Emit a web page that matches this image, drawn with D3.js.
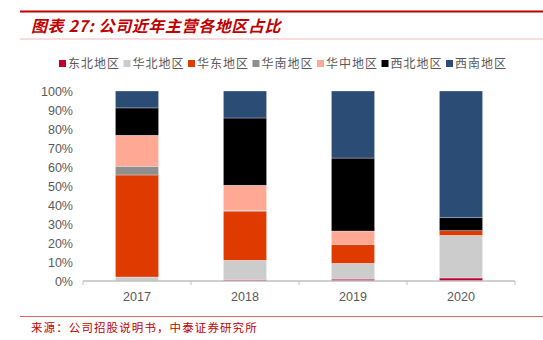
<!DOCTYPE html>
<html>
<head>
<meta charset="utf-8">
<script src="https://cdn.jsdelivr.net/npm/d3@7"></script>
<style>
  body { margin: 0; background: #fff; }
  svg { display: block; }
</style>
</head>
<body>
<svg id="chart"></svg>
<script>
// data (percent of revenue)
const years = ['2017', '2018', '2019', '2020'];
const regions = ['东北地区', '华北地区', '华东地区', '华南地区', '华中地区', '西北地区', '西南地区'];
const colors = ['#C0002F', '#CCCCCC', '#DF3A00', '#8F8F8F', '#FFA893', '#000000', '#2B4C74'];
const dongbei = [0.0, 0.8, 1.0, 1.6];
const huabei = [2.1, 10.1, 8.3, 22.4];
const huadong = [53.7, 25.9, 10.0, 2.5];
const huanan = [4.6, 0.4, 0.0, 0.0];
const huazhong = [16.3, 13.2, 7.0, 0.0];
const xibei = [14.4, 35.4, 38.4, 6.8];
const xinan = [8.9, 14.2, 35.3, 66.7];
const yTicks = [0, 10, 20, 30, 40, 50, 60, 70, 80, 90, 100];

const width = 543, height = 340;
const font = 'Arial, "Liberation Sans", sans-serif';
const cjk = '"Noto Sans CJK SC", sans-serif';

const svg = d3.select('#chart').attr('width', width).attr('height', height);

// header lines + title
svg.append('line').attr('x1', 20).attr('x2', 543).attr('y1', 11.5).attr('y2', 11.5)
  .attr('stroke', '#C00000').attr('stroke-width', 2);
svg.append('line').attr('x1', 20).attr('x2', 543).attr('y1', 39).attr('y2', 39)
  .attr('stroke', '#F4B8B8').attr('stroke-width', 1);
svg.append('text').attr('x', 31).attr('y', 32)
  .attr('fill', '#C00000').attr('font-family', cjk).attr('font-size', 16)
  .attr('font-weight', 'bold').attr('font-style', 'italic').attr('letter-spacing', 0.6)
  .text('图表 27:  公司近年主营各地区占比');

// stack
const table = years.map((y, i) => ({
  year: y,
  '东北地区': dongbei[i], '华北地区': huabei[i], '华东地区': huadong[i], '华南地区': huanan[i],
  '华中地区': huazhong[i], '西北地区': xibei[i], '西南地区': xinan[i]
}));
const series = d3.stack().keys(regions)(table);

const x = d3.scaleBand().domain(years).range([83, 515]).paddingInner(0.6).paddingOuter(0.3);
const y = d3.scaleLinear().domain([0, 100]).range([281, 91]);
const color = d3.scaleOrdinal(regions, colors);

svg.append('g').selectAll('g')
  .data(series)
  .enter().append('g')
  .attr('fill', d => color(d.key))
  .selectAll('rect')
  .data(d => d)
  .enter().append('rect')
  .attr('x', d => x(d.data.year))
  .attr('width', x.bandwidth())
  .attr('y', d => y(d[1]))
  .attr('height', d => y(d[0]) - y(d[1]))
  .attr('stroke', '#ffffff').attr('stroke-opacity', 0.5).attr('stroke-width', 0.6);

// y axis labels
const yAxis = svg.append('g').attr('transform', 'translate(83,0)')
  .call(d3.axisLeft(y).tickValues(yTicks).tickFormat(d => d + '%').tickSize(0).tickPadding(10));
yAxis.select('.domain').remove();
yAxis.selectAll('text').attr('fill', '#595959').attr('font-family', font).attr('font-size', 12.5);

// x axis
const xb = d3.scaleLinear().domain([0, 4]).range([83, 515]);
const xAxis = svg.append('g').attr('transform', 'translate(0,281)');
xAxis.append('line').attr('x1', 83).attr('x2', 515).attr('stroke', '#BFBFBF').attr('stroke-width', 1.3);
xAxis.selectAll('.tk').data(d3.range(5)).enter().append('line')
  .attr('x1', d => xb(d)).attr('x2', d => xb(d)).attr('y1', 0).attr('y2', 4)
  .attr('stroke', '#BFBFBF');
xAxis.selectAll('.lbl').data(years).enter().append('text')
  .attr('x', d => x(d) + x.bandwidth() / 2).attr('y', 20)
  .attr('text-anchor', 'middle').attr('fill', '#595959')
  .attr('font-family', font).attr('font-size', 12.5).text(d => d);

// legend
const legend = svg.append('g');
let lx = 59;
regions.forEach((r, i) => {
  legend.append('rect').attr('x', lx).attr('y', 60).attr('width', 7).attr('height', 7).attr('fill', colors[i]);
  legend.append('text').attr('x', lx + 9).attr('y', 68)
    .attr('fill', '#595959').attr('font-family', cjk).attr('font-size', 12)
    .attr('letter-spacing', 1).text(r);
  lx += 64.5;
});

// footer
svg.append('line').attr('x1', 20).attr('x2', 543).attr('y1', 316.5).attr('y2', 316.5)
  .attr('stroke', '#E06666').attr('stroke-width', 1);
svg.append('text').attr('x', 31).attr('y', 332)
  .attr('fill', '#C00000').attr('font-family', cjk).attr('font-size', 11.5)
  .attr('letter-spacing', 1.1)
  .text('来源：公司招股说明书，中泰证券研究所');
</script>
</body>
</html>
